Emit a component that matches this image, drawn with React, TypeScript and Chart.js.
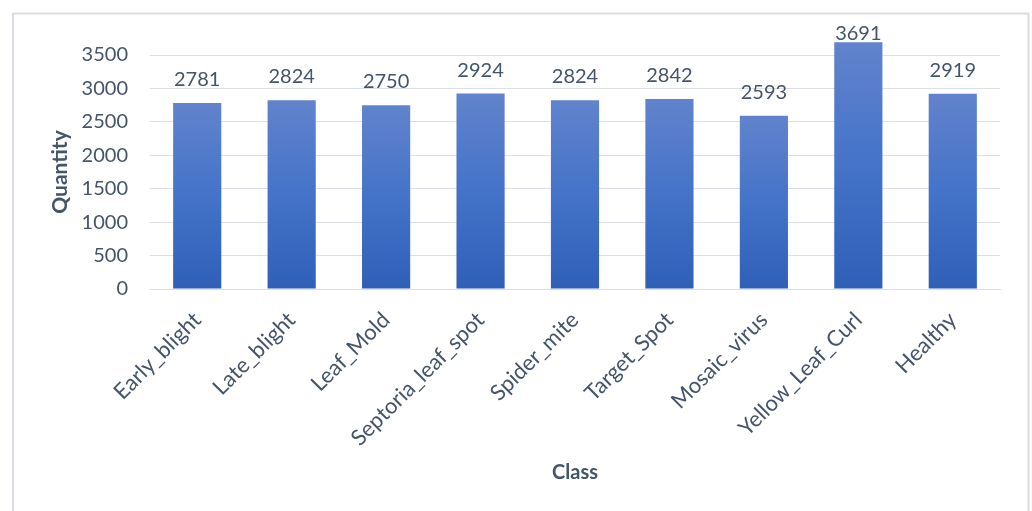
import React, { useEffect, useRef } from "react";
import { Chart, registerables } from "chart.js";

Chart.register(...registerables);

const categories = [
  "Early_blight",
  "Late_blight",
  "Leaf_Mold",
  "Septoria_leaf_spot",
  "Spider_mite",
  "Target_Spot",
  "Mosaic_virus",
  "Yellow_Leaf_Curl",
  "Healthy",
];
const quantities = [2781, 2824, 2750, 2924, 2824, 2842, 2593, 3691, 2919];
const yMin = 0;
const yMax = 3500;
const yStep = 500;

const TEXT = "#44546A";
const GRID = "#DCDFE4";
const FONT = "Lato, 'Open Sans', sans-serif";

const frame = {
  id: "frame",
  beforeDraw(chart: any) {
    const c = chart.ctx;
    c.save();
    c.fillStyle = "#FFFFFF";
    c.fillRect(0, 0, chart.width, chart.height);
    c.strokeStyle = "#D9DDE2";
    c.lineWidth = 2;
    c.strokeRect(13, 13.5, 1015.5, chart.height + 20);
    c.restore();
  },
};

const valueLabels = {
  id: "valueLabels",
  afterDatasetsDraw(chart: any) {
    const c = chart.ctx;
    const meta = chart.getDatasetMeta(0);
    const top = chart.chartArea.top;
    c.save();
    c.font = `20px ${FONT}`;
    c.fillStyle = TEXT;
    c.textAlign = "center";
    c.textBaseline = "alphabetic";
    meta.data.forEach((bar: any, i: number) => {
      const yPos = Math.max(bar.y - 17, top - 15);
      c.fillText(String(quantities[i]), bar.x, yPos);
    });
    c.restore();
  },
};

export default function App() {
  const ref = useRef<HTMLCanvasElement | null>(null);
  useEffect(() => {
    if (!ref.current) return;
    const chart = new Chart(ref.current, {
      type: "bar",
      data: {
        labels: categories,
        datasets: [
          {
            data: quantities,
            clip: false as any,
            categoryPercentage: 1,
            barPercentage: 0.51,
            backgroundColor: (ctx: any) => {
              const ch = ctx.chart;
              const y = ch.scales && ch.scales.y;
              if (!y || ctx.type !== "data") return "#4472C4";
              const t = y.getPixelForValue(ctx.raw);
              const b = y.getPixelForValue(0);
              if (!isFinite(t) || !isFinite(b) || t === b) return "#4472C4";
              const g = ch.ctx.createLinearGradient(0, t, 0, b);
              g.addColorStop(0, "#6283CC");
              g.addColorStop(0.5, "#4473C9");
              g.addColorStop(1, "#2F5FB7");
              return g;
            },
          } as any,
        ],
      },
      options: {
        animation: false,
        responsive: true,
        maintainAspectRatio: false,
        layout: { padding: { left: 48, top: 55, right: 32, bottom: 26 } },
        plugins: {
          legend: { display: false },
          tooltip: { enabled: false },
        },
        scales: {
          x: {
            afterFit: (s: any) => {
              s.height = 196;
            },
            grid: { display: false, drawTicks: false },
            border: { display: true, color: GRID, width: 1 },
            ticks: {
              color: TEXT,
              font: { family: FONT, size: 22 },
              maxRotation: 45,
              minRotation: 45,
              padding: 18,
              autoSkip: false,
            },
            title: {
              display: true,
              text: "Class",
              color: TEXT,
              font: { family: FONT, size: 20, weight: "bold" },
              padding: 0,
            },
          },
          y: {
            min: yMin,
            max: yMax,
            afterFit: (s: any) => {
              s.width = 102;
            },
            grid: { color: GRID, lineWidth: 1, drawTicks: false },
            border: { display: false },
            ticks: {
              stepSize: yStep,
              color: TEXT,
              font: { family: FONT, size: 20 },
              padding: 22,
              callback: (v: any) => String(v),
            },
            title: {
              display: true,
              text: "Quantity",
              color: TEXT,
              font: { family: FONT, size: 21, weight: "bold" },
              padding: 0,
            },
          },
        },
      },
      plugins: [frame, valueLabels],
    });
    return () => chart.destroy();
  }, []);
  return (
    <div style={{ position: "absolute", left: 0, top: 0, width: 1032, height: 511 }}>
      <canvas ref={ref} />
    </div>
  );
}
